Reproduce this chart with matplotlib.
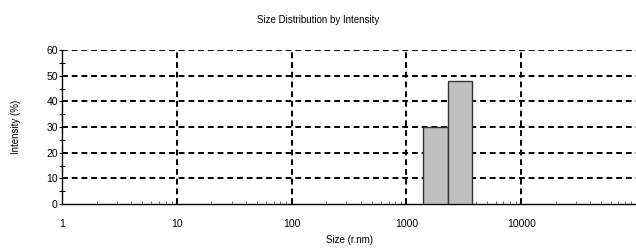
import numpy as np
import matplotlib.pyplot as plt
from matplotlib.ticker import FixedLocator, NullFormatter

plt.rcParams['font.family'] = ['Liberation Sans', 'DejaVu Sans']

bin_edges = [1404, 2290, 3750]
intensity = [30, 48]
yticks = [0, 10, 20, 30, 40, 50, 60]
xticks = [1, 10, 100, 1000, 10000]
xticklabels = ['1', '10', '100', '1000', '10000']

fig = plt.figure(figsize=(6.36, 2.48), dpi=100)
ax = fig.add_axes([62 / 636, 1 - 204 / 248, 574 / 636, 154 / 248])

ax.set_xscale('log')
ax.set_xlim(1, 100000)
ax.set_ylim(0, 60)

lefts = np.array(bin_edges[:-1])
widths = np.diff(bin_edges)
ax.bar(lefts, intensity, width=widths, align='edge', color='#c0c0c0',
       edgecolor='#333333', linewidth=1.0, zorder=3)

for v in yticks[1:]:
    ax.axhline(v, color='black', linestyle=(0, (3, 2)), linewidth=1.4, zorder=2)
for v in xticks[1:]:
    ax.axvline(v, color='black', linestyle=(0, (3, 2)), linewidth=1.4, zorder=2)

ax.spines['top'].set_visible(False)
ax.spines['right'].set_visible(False)
ax.spines['left'].set_linewidth(1.0)
ax.spines['bottom'].set_linewidth(1.0)

ax.set_xticks(xticks)
ax.set_xticklabels(xticklabels)
ax.xaxis.set_minor_locator(FixedLocator(
    [m * 10 ** e for e in range(0, 5) for m in range(2, 10)]))
ax.xaxis.set_minor_formatter(NullFormatter())
ax.tick_params(axis='x', which='major', length=0, pad=11, labelsize=7.5)
ax.tick_params(axis='x', which='minor', direction='in', length=2.5, width=0.6,
               color='#555555')

ax.set_yticks(yticks)
ax.yaxis.set_minor_locator(FixedLocator([5, 15, 25, 35, 45, 55]))
ax.tick_params(axis='y', which='major', direction='out', length=2, pad=1,
               labelsize=7.5)
ax.tick_params(axis='y', which='minor', direction='inout', length=5, width=0.8)

ax.set_xlabel('Size (r.nm)', fontsize=7, labelpad=4)
ax.set_ylabel('Intensity (%)', fontsize=7, labelpad=18)
fig.text(0.5, 1 - 20 / 248, 'Size Distribution by Intensity', ha='center',
         va='center', fontsize=7)

fig.savefig('out.png', dpi=100)
